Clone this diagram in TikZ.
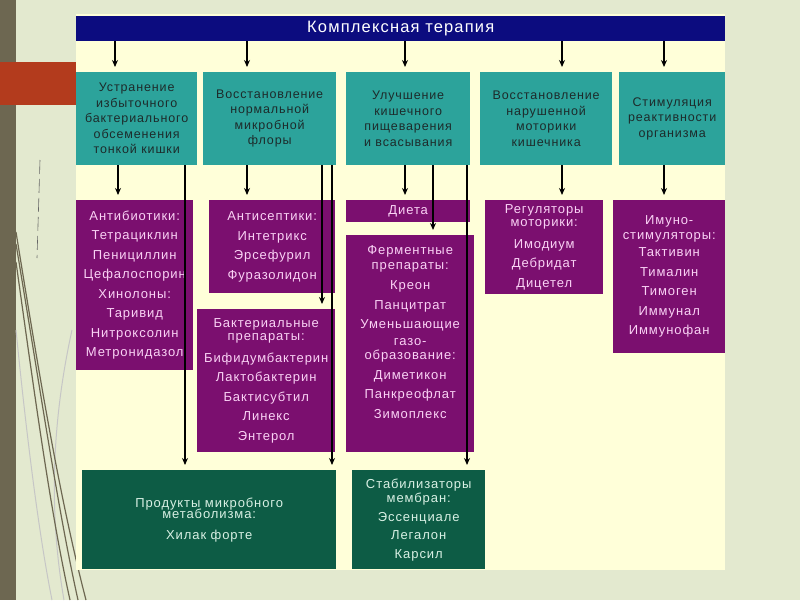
\documentclass[tikz,border=0pt]{standalone}
\usepackage{fontspec}
\setmainfont[LetterSpace=7]{Liberation Sans}
\usepackage{tikz}
\usetikzlibrary{arrows.meta, calc}
\definecolor{slidebg}{HTML}{E3E9CF}
\definecolor{slidestrip}{HTML}{6D6751}
\definecolor{slidered}{HTML}{B33B1D}
\definecolor{panelcream}{HTML}{FFFFD9}
\definecolor{therapynavy}{HTML}{0C0C7F}
\definecolor{goalteal}{HTML}{2CA39B}
\definecolor{goaltext}{HTML}{1D2B2B}
\definecolor{drugpurple}{HTML}{7B0F6F}
\definecolor{drugtext}{HTML}{FAD2F5}
\definecolor{prodgreen}{HTML}{0D5C45}
\definecolor{prodtext}{HTML}{D8F0E4}

\begin{document}
\begin{tikzpicture}[
    x=1pt, y=-1pt,
    titlebar/.style={rectangle, fill=therapynavy, text=white, anchor=north west,
                 inner sep=0pt, font=\fontsize{16.5}{18}\selectfont},
    goalbox/.style={rectangle, fill=goalteal, text=goaltext, anchor=north west,
                 inner sep=0pt, align=center, font=\fontsize{12.5}{15.5}\selectfont},
    drugbox/.style={rectangle, fill=drugpurple, text=drugtext, anchor=north west,
                 inner sep=0pt, align=center, font=\fontsize{13}{19.5}\selectfont},
    prodbox/.style={rectangle, fill=prodgreen, text=prodtext, anchor=north west,
                 inner sep=0pt, align=center, font=\fontsize{13}{18.5}\selectfont},
    arr/.style={-{Stealth[length=7pt,width=6pt]}, line width=1.3pt, black, shorten >=5pt}
]
\useasboundingbox (0,0) rectangle (800,600);

% Slide background
\fill[slidebg] (0,0) rectangle (800,600);
\fill[slidestrip] (0,0) rectangle (16,600);
\fill[slidered] (0,62) rectangle (76,105);
\draw[black!60, line width=0.6pt, dash pattern=on 14pt off 5pt] (40,160) -- (37,258);
\draw[gray!45, line width=1pt] (16,330) .. controls (28,450) and (40,540) .. (52,600);
\draw[gray!45, line width=1pt] (72,330) .. controls (50,430) and (50,520) .. (64,600);
\draw[slidestrip, line width=1.2pt] (16,232) .. controls (40,380) and (60,500) .. (86,600);
\draw[slidestrip, line width=1.2pt] (16,244) .. controls (42,400) and (58,510) .. (78,600);
\draw[slidestrip, line width=1.2pt] (16,262) .. controls (34,390) and (50,510) .. (70,600);

% Diagram panel
\fill[panelcream] (76,14) rectangle (725,570);
\node[titlebar, minimum width=649pt, minimum height=25pt] at (76,16) (title) {Комплексная терапия};

% Goals
\node[goalbox, minimum width=121pt, minimum height=93pt] at (76,72) (t1)
  {Устранение\\избыточного\\бактериального\\обсеменения\\тонкой кишки};
\node[goalbox, minimum width=133pt, minimum height=93pt] at (203,72) (t2)
  {Восстановление\\нормальной\\микробной\\флоры};
\node[goalbox, minimum width=124pt, minimum height=93pt] at (346,72) (t3)
  {Улучшение\\кишечного\\пищеварения\\и всасывания};
\node[goalbox, minimum width=132pt, minimum height=93pt] at (480,72) (t4)
  {Восстановление\\нарушенной\\моторики\\кишечника};
\node[goalbox, minimum width=106pt, minimum height=93pt] at (619,72) (t5)
  {Стимуляция\\реактивности\\организма};

% Drugs
\node[drugbox, minimum width=117pt, minimum height=170pt] at (76,200) (abx)
  {Антибиотики:\\Тетрациклин\\Пенициллин\\Цефалоспорин\\Хинолоны:\\Таривид\\Нитроксолин\\Метронидазол};
\node[drugbox, minimum width=126pt, minimum height=93pt] at (209,200) (asep)
  {Антисептики:\\Интетрикс\\Эрсефурил\\Фуразолидон};
\node[drugbox, minimum width=138pt, minimum height=143pt] at (197,309) (bact)
  {Бактериальные\\[-6pt]препараты:\\[2pt]Бифидумбактерин\\Лактобактерин\\Бактисубтил\\Линекс\\Энтерол};
\node[drugbox, minimum width=124pt, minimum height=22pt] at (346,200) (diet) {Диета};
\node[drugbox, minimum width=128pt, minimum height=217pt] at (346,235) (enz)
  {Ферментные\\[-5pt]препараты:\\[1pt]Креон\\Панцитрат\\Уменьшающие\\[-3pt]газо-\\[-5pt]образование:\\Диметикон\\Панкреофлат\\Зимоплекс\\[4pt]};
\node[drugbox, minimum width=118pt, minimum height=94pt] at (485,200) (regm)
  {Регуляторы\\[-6pt]моторики:\\[2pt]Имодиум\\Дебридат\\Дицетел};
\node[drugbox, minimum width=112pt, minimum height=153pt] at (613,200) (immu)
  {Имуно-\\[-5pt]стимуляторы:\\[-2pt]Тактивин\\Тималин\\Тимоген\\Иммунал\\Иммунофан};

% Products
\node[prodbox, minimum width=254pt, minimum height=99pt] at (82,470) (prod)
  {Продукты микробного\\[-7pt]метаболизма:\\[2pt]Хилак форте};
\node[prodbox, minimum width=133pt, minimum height=99pt] at (352,470) (stab)
  {Стабилизаторы\\[-4pt]мембран:\\Эссенциале\\Легалон\\Карсил};

% Columns of the connectors
\coordinate (ka) at (115,0);
\coordinate (kb) at (247,0);
\coordinate (kc) at (405,0);
\coordinate (kd) at (562,0);
\coordinate (ke) at (664,0);
\coordinate (r1) at (118,0);
\coordinate (r2) at (185,0);
\coordinate (r4) at (322,0);
\coordinate (r5) at (332,0);
\coordinate (r7) at (433,0);
\coordinate (r8) at (467,0);

% Arrows
\draw[arr] (ka |- title.south) -- (ka |- t1.north);
\draw[arr] (kb |- title.south) -- (kb |- t2.north);
\draw[arr] (kc |- title.south) -- (kc |- t3.north);
\draw[arr] (kd |- title.south) -- (kd |- t4.north);
\draw[arr] (ke |- title.south) -- (ke |- t5.north);

\draw[arr] (r1 |- t1.south) -- (r1 |- abx.north);
\draw[arr] (r2 |- t1.south) -- (r2 |- prod.north);
\draw[arr] (kb |- t2.south) -- (kb |- asep.north);
\draw[arr] (r4 |- t2.south) -- (r4 |- bact.north);
\draw[arr] (r5 |- t2.south) -- (r5 |- prod.north);
\draw[arr] (kc |- t3.south) -- (kc |- diet.north);
\draw[arr] (r7 |- t3.south) -- (r7 |- enz.north);
\draw[arr] (r8 |- t3.south) -- (r8 |- stab.north);
\draw[arr] (kd |- t4.south) -- (kd |- regm.north);
\draw[arr] (ke |- t5.south) -- (ke |- immu.north);

\end{tikzpicture}
\end{document}
